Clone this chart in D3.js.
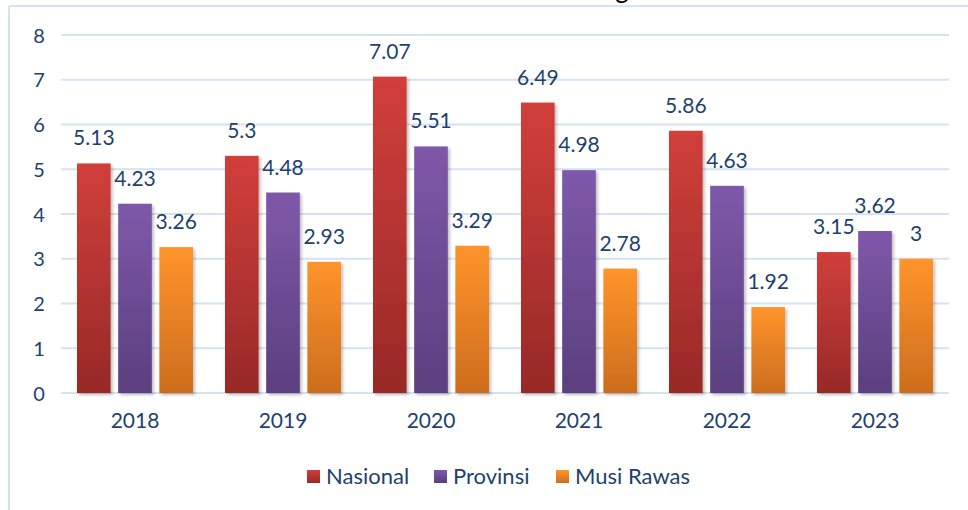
<!DOCTYPE html>
<html>
<head>
<meta charset="utf-8">
<script src="https://cdn.jsdelivr.net/npm/d3@7"></script>
<style>
  body { margin: 0; background: #fff; }
  text { font-family: Lato, "Open Sans", sans-serif; }
</style>
</head>
<body>
<div id="chart"></div>
<script>
// data
const years = ['2018', '2019', '2020', '2021', '2022', '2023'];
const seriesNames = ['Nasional', 'Provinsi', 'Musi Rawas'];
const nasional = [5.13, 5.3, 7.07, 6.49, 5.86, 3.15];
const provinsi = [4.23, 4.48, 5.51, 4.98, 4.63, 3.62];
const musiRawas = [3.26, 2.93, 3.29, 2.78, 1.92, 3];
const yTicks = [0, 1, 2, 3, 4, 5, 6, 7, 8];

const seriesValues = [nasional, provinsi, musiRawas];
const colors = [
  {top: '#d13f3b', bottom: '#972927'},
  {top: '#7f58aa', bottom: '#5a3f7e'},
  {top: '#ff942a', bottom: '#cd6d1d'}
];

const width = 968, height = 510;
const margin = {top: 35, right: 19, bottom: 117, left: 61};
const textColor = '#1f3f6f';
const gridColor = '#d5e2f2';

const svg = d3.select('#chart').append('svg')
    .attr('width', width)
    .attr('height', height);

const defs = svg.append('defs');
colors.forEach((c, i) => {
  const g = defs.append('linearGradient')
      .attr('id', 'grad' + i)
      .attr('x1', 0).attr('y1', 0).attr('x2', 0).attr('y2', 1);
  g.append('stop').attr('offset', '0%').attr('stop-color', c.top);
  g.append('stop').attr('offset', '100%').attr('stop-color', c.bottom);
});
const shadow = defs.append('filter').attr('id', 'shadow')
    .attr('x', '-20%').attr('y', '-5%').attr('width', '150%').attr('height', '115%');
shadow.append('feDropShadow')
    .attr('dx', 2).attr('dy', 2).attr('stdDeviation', 1.5)
    .attr('flood-color', '#000').attr('flood-opacity', 0.25);

// frame lines (chart is cropped, only top + left edges show)
svg.append('line')
    .attr('x1', 9).attr('x2', width).attr('y1', 6).attr('y2', 6)
    .attr('stroke', gridColor).attr('stroke-width', 2);
svg.append('line')
    .attr('x1', 9).attr('x2', 9).attr('y1', 6).attr('y2', height)
    .attr('stroke', gridColor).attr('stroke-width', 2);

// cut-off title, only the descender shows
svg.append('text')
    .attr('x', 622).attr('y', -2)
    .attr('text-anchor', 'middle')
    .attr('font-size', 26)
    .attr('font-family', 'Lato, sans-serif')
    .attr('fill', '#000')
    .text('g');

const innerW = width - margin.left - margin.right;
const innerH = height - margin.top - margin.bottom;

const chart = svg.append('g')
    .attr('transform', `translate(${margin.left},${margin.top})`);

const x0 = d3.scaleBand()
    .domain(years)
    .range([0, innerW])
    .paddingInner(0.216)
    .paddingOuter(0.108);

const x1 = d3.scaleBand()
    .domain(seriesNames)
    .range([0, x0.bandwidth()])
    .paddingInner(0.183)
    .paddingOuter(0);

const y = d3.scaleLinear()
    .domain([0, 8])
    .range([innerH, 0]);

// gridlines
chart.selectAll('.grid')
    .data(yTicks)
  .join('line')
    .attr('class', 'grid')
    .attr('x1', 0).attr('x2', innerW)
    .attr('y1', d => y(d)).attr('y2', d => y(d))
    .attr('stroke', gridColor)
    .attr('stroke-width', 2);

// y axis labels
const yAxis = chart.append('g')
    .call(d3.axisLeft(y).tickValues(yTicks).tickSize(0).tickPadding(22));
yAxis.select('.domain').remove();
yAxis.selectAll('text')
    .attr('font-size', 20)
    .attr('font-family', 'Lato, sans-serif')
    .attr('fill', textColor)
    .attr('text-anchor', 'middle')
    .attr('dy', '0.36em');

// x axis labels
const xAxis = chart.append('g')
    .attr('transform', `translate(0,${innerH})`)
    .call(d3.axisBottom(x0).tickSize(0).tickPadding(20));
xAxis.select('.domain').remove();
xAxis.selectAll('text')
    .attr('font-size', 21)
    .attr('font-family', 'Lato, sans-serif')
    .attr('fill', textColor);

// bars
const rows = years.map((yr, i) => ({
  year: yr,
  values: seriesNames.map((s, j) => ({name: s, idx: j, value: seriesValues[j][i]}))
}));

const groups = chart.selectAll('.year')
    .data(rows)
  .join('g')
    .attr('class', 'year')
    .attr('transform', d => `translate(${x0(d.year)},0)`);

groups.selectAll('rect')
    .data(d => d.values)
  .join('rect')
    .attr('x', d => x1(d.name))
    .attr('y', d => y(d.value))
    .attr('width', x1.bandwidth())
    .attr('height', d => innerH - y(d.value))
    .attr('fill', d => `url(#grad${d.idx})`)
    .attr('filter', 'url(#shadow)');

groups.selectAll('.val')
    .data(d => d.values)
  .join('text')
    .attr('class', 'val')
    .attr('x', d => x1(d.name) + x1.bandwidth() / 2)
    .attr('y', d => y(d.value) - 18)
    .attr('text-anchor', 'middle')
    .attr('font-size', 21)
    .attr('fill', textColor)
    .text(d => d.value);

// legend
const legendX = [307, 434, 556];
const legend = svg.append('g').attr('transform', 'translate(0,476)');
const items = legend.selectAll('.item')
    .data(seriesNames)
  .join('g')
    .attr('class', 'item')
    .attr('transform', (d, i) => `translate(${legendX[i]},0)`);
items.append('rect')
    .attr('x', 0).attr('y', -6)
    .attr('width', 13).attr('height', 13)
    .attr('fill', (d, i) => `url(#grad${i})`);
items.append('text')
    .attr('x', 19).attr('y', 0)
    .attr('dy', '0.36em')
    .attr('font-size', 22)
    .attr('fill', textColor)
    .text(d => d);
</script>
</body>
</html>
